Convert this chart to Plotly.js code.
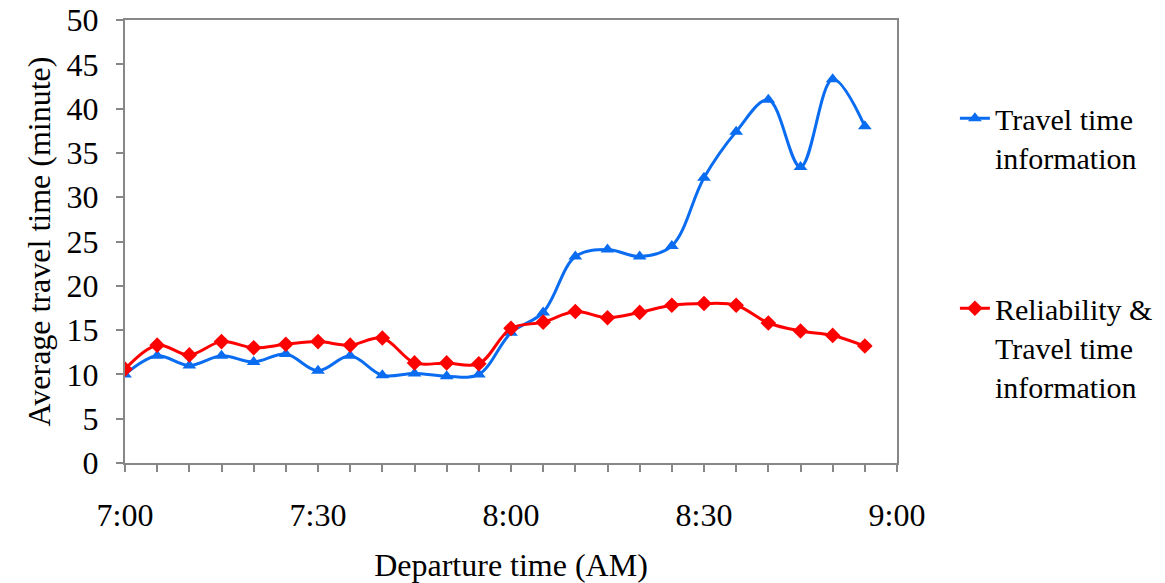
<!DOCTYPE html>
<html>
<head>
<meta charset="utf-8">
<script src="https://cdn.plot.ly/plotly-3.0.1.min.js"></script>
<style>
html,body{margin:0;padding:0;background:#fff;}
#chart{width:1165px;height:583px;}
</style>
</head>
<body>
<div id="chart"></div>
<script>
// Departure times (AM), every 5 minutes
var departureTimes = ["7:00","7:05","7:10","7:15","7:20","7:25","7:30","7:35","7:40","7:45","7:50","7:55",
                      "8:00","8:05","8:10","8:15","8:20","8:25","8:30","8:35","8:40","8:45","8:50","8:55"];
// Average travel time (minute)
var travelTimeInfo = [10.0, 12.1, 11.0, 12.1, 11.4, 12.3, 10.4, 12.1, 9.9, 10.1, 9.8, 10.0,
                      14.7, 17.0, 23.3, 24.1, 23.3, 24.5, 32.2, 37.4, 41.0, 33.4, 43.3, 38.0];
var reliabilityInfo = [10.6, 13.3, 12.2, 13.7, 13.0, 13.4, 13.7, 13.3, 14.1, 11.3, 11.3, 11.2,
                       15.2, 15.9, 17.1, 16.4, 17.0, 17.8, 18.0, 17.8, 15.8, 14.9, 14.4, 13.2];
var xTickLabels = ["7:00","7:30","8:00","8:30","9:00"];
var seriesNames = ["Travel time<br>information", "Reliability &amp;<br>Travel time<br>information"];

function toMinutes(t){ var p = t.split(":"); return (+p[0]) * 60 + (+p[1]); }
var xs = departureTimes.map(toMinutes);
var tickVals = xTickLabels.map(toMinutes);

var FONT = 'Liberation Serif, serif';
var AXIS_COLOR = '#878787';

var traces = [
  {
    x: xs, y: travelTimeInfo, type: 'scatter', mode: 'lines+markers',
    name: seriesNames[0], legendgroup: 'a',
    line: {color: '#0A6CF0', width: 3, shape: 'spline', smoothing: 1},
    marker: {symbol: 'triangle-up', size: 12, color: '#0A6CF0'}
  },
  {
    x: xs, y: reliabilityInfo, type: 'scatter', mode: 'lines+markers',
    name: seriesNames[1], legendgroup: 'b',
    line: {color: '#FF0000', width: 3, shape: 'spline', smoothing: 1},
    marker: {symbol: 'diamond', size: 12, color: '#FF0000'}
  }
];

var layout = {
  width: 1165, height: 583,
  margin: {l: 125, r: 268, t: 20, b: 120, autoexpand: false},
  paper_bgcolor: '#ffffff', plot_bgcolor: '#ffffff',
  font: {family: FONT, size: 32, color: '#000000'},
  showlegend: true,
  legend: {
    x: 1.075, xanchor: 'left', y: 0.837, yanchor: 'top',
    valign: 'top', traceorder: 'grouped', tracegroupgap: 109,
    font: {family: FONT, size: 30, color: '#000'},
    bgcolor: 'rgba(0,0,0,0)'
  },
  xaxis: {
    range: [tickVals[0], tickVals[tickVals.length - 1]],
    tickmode: 'array', tickvals: tickVals, ticktext: xTickLabels,
    ticks: 'outside', ticklen: 7, tickwidth: 2, tickcolor: AXIS_COLOR,
    minor: {dtick: 5, tick0: 0, ticks: 'outside', ticklen: 7, tickwidth: 2, tickcolor: AXIS_COLOR, showgrid: false},
    showline: true, linecolor: AXIS_COLOR, linewidth: 2, mirror: true,
    showgrid: false, zeroline: false,
    ticklabelstandoff: 16,
    tickfont: {family: FONT, size: 32, color: '#000'},
    title: {text: 'Departure time (AM)', font: {family: FONT, size: 32, color: '#000'}, standoff: 26}
  },
  yaxis: {
    range: [0, 50], dtick: 5, tick0: 0,
    ticks: 'outside', ticklen: 7, tickwidth: 2, tickcolor: AXIS_COLOR,
    showline: true, linecolor: AXIS_COLOR, linewidth: 2, mirror: true,
    showgrid: false, zeroline: false,
    ticklabelstandoff: 11,
    tickfont: {family: FONT, size: 32, color: '#000'},
    title: {text: 'Average travel time (minute)', font: {family: FONT, size: 32, color: '#000'}, standoff: 6}
  }
};

Plotly.newPlot('chart', traces, layout, {displayModeBar: false, staticPlot: true});
</script>
</body>
</html>
